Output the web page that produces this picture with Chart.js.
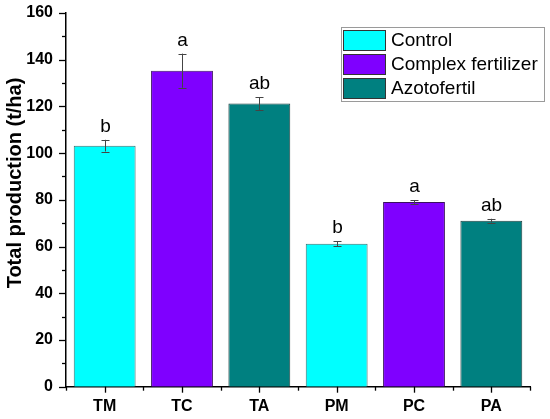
<!DOCTYPE html>
<html>
<head>
<meta charset="utf-8">
<script src="https://cdn.jsdelivr.net/npm/chart.js@4"></script>
<style>
html,body{margin:0;padding:0;background:#fff;}
#wrap{width:550px;height:419px;position:relative;}
</style>
</head>
<body>
<div id="wrap"><canvas id="c"></canvas></div>
<script>
const categories = ['TM','TC','TA','PM','PC','PA'];
const seriesNames = ['Control','Complex fertilizer','Azotofertil'];
const controlValues = [103.2, null, null, 61.2, null, null];
const complexValues = [null, 135.3, null, null, 79.1, null];
const azotoValues   = [null, null, 121.2, null, null, 71.1];
const errorValues = [2.5, 7.3, 2.7, 1.0, 0.8, 0.8];
const letters = ['b','a','ab','b','a','ab'];
const yTicks = [0,20,40,60,80,100,120,140,160];
const yTitle = 'Total production (t/ha)';

const colors = ['#00FFFF','#7F00FF','#008080'];
const borders = ['#3c6f6f','#3a1060','#1f3f3f'];
const FONT = '"Liberation Sans", Arial, sans-serif';

const decor = {
  id: 'decor',
  afterDatasetsDraw(chart) {
    const ctx = chart.ctx;
    const x = chart.scales.x, y = chart.scales.y;
    const ca = chart.chartArea;
    ctx.save();
    ctx.strokeStyle = '#000';
    ctx.lineWidth = 1.3;
    for (let v = 0; v <= 160; v += 10) {
      const py = Math.round(y.getPixelForValue(v)) + 0.5;
      const len = (v % 20 === 0) ? 7 : 4;
      ctx.beginPath(); ctx.moveTo(ca.left - len, py); ctx.lineTo(ca.left, py); ctx.stroke();
    }
    const n = categories.length;
    for (let i = 0; i < n; i++) {
      const px = Math.round(x.getPixelForValue(i)) + 0.5;
      ctx.beginPath(); ctx.moveTo(px, ca.bottom); ctx.lineTo(px, ca.bottom + 6); ctx.stroke();
    }
    for (let i = 0; i <= n; i++) {
      const px = Math.round(x.getPixelForValue(i - 0.5)) + 0.5;
      ctx.beginPath(); ctx.moveTo(px, ca.bottom); ctx.lineTo(px, ca.bottom + 4); ctx.stroke();
    }
    const all = [controlValues, complexValues, azotoValues];
    ctx.strokeStyle = '#444';
    ctx.lineWidth = 1;
    for (let i = 0; i < n; i++) {
      let v = null;
      all.forEach(a => { if (a[i] !== null) v = a[i]; });
      if (v === null) continue;
      const px = Math.round(x.getPixelForValue(i)) + 0.5;
      const top = y.getPixelForValue(v + errorValues[i]);
      const bot = y.getPixelForValue(v - errorValues[i]);
      ctx.beginPath();
      ctx.moveTo(px, top); ctx.lineTo(px, bot);
      ctx.moveTo(px - 4, Math.round(top) + 0.5); ctx.lineTo(px + 4, Math.round(top) + 0.5);
      ctx.moveTo(px - 4, Math.round(bot) + 0.5); ctx.lineTo(px + 4, Math.round(bot) + 0.5);
      ctx.stroke();
      ctx.fillStyle = '#000';
      ctx.font = '19px ' + FONT;
      ctx.textAlign = 'center';
      ctx.textBaseline = 'alphabetic';
      ctx.fillText(letters[i], px, top - 8);
    }
    ctx.save();
    ctx.translate(15, 183);
    ctx.rotate(-Math.PI / 2);
    ctx.font = 'bold 20px ' + FONT;
    ctx.fillStyle = '#000';
    ctx.textAlign = 'center';
    ctx.textBaseline = 'middle';
    ctx.fillText(yTitle, 0, 0);
    ctx.restore();
    const lx = 341, ly = 27, lw = 203, lh = 74;
    ctx.fillStyle = '#fff';
    ctx.fillRect(lx, ly, lw, lh);
    ctx.strokeStyle = '#9a9a9a';
    ctx.lineWidth = 1;
    ctx.strokeRect(lx + 0.5, ly + 0.5, lw, lh);
    chart.data.datasets.forEach((ds, k) => {
      const sy = 30 + k * 24;
      ctx.fillStyle = ds.backgroundColor;
      ctx.fillRect(343, sy, 43, 21);
      ctx.strokeStyle = '#333';
      ctx.strokeRect(343.5, sy + 0.5, 42, 20);
      ctx.fillStyle = '#000';
      ctx.font = '19px ' + FONT;
      ctx.textAlign = 'left';
      ctx.textBaseline = 'middle';
      ctx.fillText(ds.label, 391, sy + 11);
    });
    ctx.restore();
  }
};

new Chart(document.getElementById('c'), {
  type: 'bar',
  data: {
    labels: categories,
    datasets: [
      { label: seriesNames[0], data: controlValues, backgroundColor: colors[0], borderColor: borders[0], borderWidth: 1, grouped: false },
      { label: seriesNames[1], data: complexValues, backgroundColor: colors[1], borderColor: borders[1], borderWidth: 1, grouped: false },
      { label: seriesNames[2], data: azotoValues, backgroundColor: colors[2], borderColor: borders[2], borderWidth: 1, grouped: false }
    ]
  },
  options: {
    responsive: true,
    maintainAspectRatio: false,
    animation: false,
    devicePixelRatio: 1,
    barPercentage: 0.8,
    categoryPercentage: 1.0,
    layout: { padding: { top: 13, right: 20, left: 0, bottom: 0 } },
    plugins: { legend: { display: false }, tooltip: { enabled: false } },
    scales: {
      x: {
        grid: { display: false, drawTicks: false },
        border: { display: true, color: '#000', width: 1.5 },
        ticks: { color: '#000', font: { family: FONT, size: 16, weight: 'bold' }, padding: 10 },
        afterFit(s) { s.height = 32.3; s.paddingLeft = 0; s.paddingRight = 0; }
      },
      y: {
        min: 0, max: 160,
        afterBuildTicks(s) { s.ticks = yTicks.map(v => ({ value: v })); },
        grid: { display: false, drawTicks: false },
        border: { display: true, color: '#000', width: 1.5 },
        ticks: { color: '#000', font: { family: FONT, size: 16, weight: 'bold' }, padding: 13 },
        afterFit(s) { s.width = 66; s.paddingTop = 0; s.paddingBottom = 0; }
      }
    }
  },
  plugins: [decor]
});
</script>
</body>
</html>
